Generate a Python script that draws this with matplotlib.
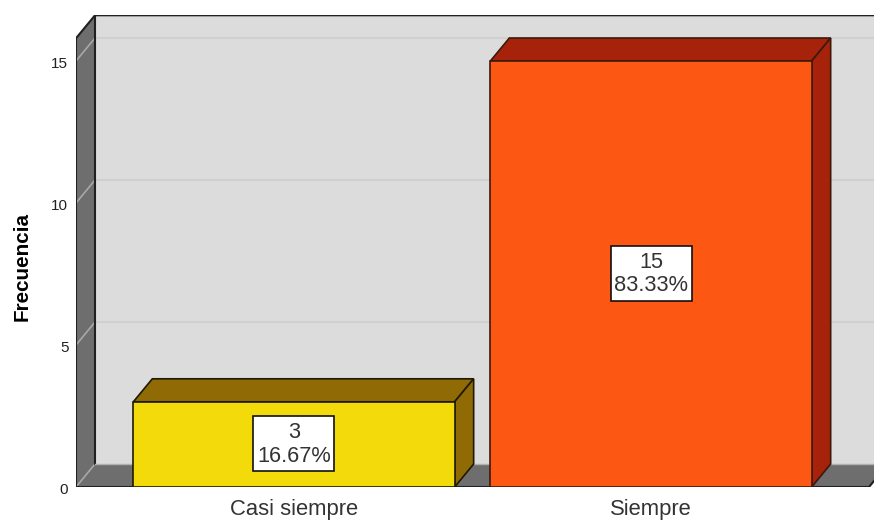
import matplotlib
matplotlib.use("Agg")
import matplotlib.pyplot as plt
from matplotlib.patches import Polygon, Rectangle
from matplotlib.transforms import ScaledTranslation

plt.rcParams["font.family"] = ["Liberation Sans", "DejaVu Sans"]

# Datos
categorias = ["Casi siempre", "Siempre"]
frecuencias = [3, 15]
porcentajes = [16.67, 83.33]
yticks = [0, 5, 10, 15]

color_frente = ["#F2DA0B", "#FC5713"]
color_lado = ["#906A05", "#A7220A"]
borde_barra = ["#1E1A00", "#3A1A0C"]

fig = plt.figure(figsize=(8.74, 5.2), dpi=100, facecolor="white")
# el plano frontal del cubo: x de 76 a 874 px, y de 487 a 15 px
ax = fig.add_axes([76 / 874, (520 - 487) / 520, 798 / 874, 472 / 520])

x0, x1 = -0.6106, 1.6246
y0, y1 = 0, 16.62
ax.set_xlim(x0, x1)
ax.set_ylim(y0, y1)

# profundidad del efecto 3D en unidades de datos
dx = 19 / 357
dy = 23 / 28.4
ytop = 15.8       # altura frontal de la pared
xfloor = 1.6106   # fin frontal del suelo
ancho = 0.9
caja_w = 81 / 357  # caja de la etiqueta
caja_h = 55 / 28.4


def poly(pts, fc, ec="none", lw=1.0, z=1):
    ax.add_patch(Polygon(pts, closed=True, facecolor=fc, edgecolor=ec, linewidth=lw, zorder=z))


# Pared del fondo, pared izquierda y suelo
poly([(x0 + dx, dy), (x1 + dx, dy), (x1 + dx, ytop + dy), (x0 + dx, ytop + dy)], "#DCDCDC", z=1)
poly([(x0, 0), (x0 + dx, dy), (x0 + dx, ytop + dy), (x0, ytop)], "#6E6E6E", z=2)
poly([(x0, 0), (xfloor, 0), (xfloor + dx, dy), (x0 + dx, dy)], "#6E6E6E", z=2)

# Lineas de rejilla
for t in yticks[1:]:
    ax.plot([x0 + dx, x1], [t + dy, t + dy], color="#D0D0D0", lw=1.5, zorder=2.5)
for t in yticks:
    ax.plot([x0, x0 + dx], [t, t + dy], color="#A8A8A8", lw=1.2, zorder=2.5)

# Bordes de las paredes
ax.plot([x0, x0, x0 + dx, x1], [0, ytop, ytop + dy, ytop + dy], color="#202020", lw=1.5, zorder=3)
ax.plot([x0 + dx, x0 + dx], [dy, ytop + dy], color="#202020", lw=1.5, zorder=3)
ax.plot([x0 + dx, x1], [dy, dy], color="#B0B0B0", lw=1.0, zorder=3)
ax.plot([x0, xfloor, xfloor + dx], [0, 0, dy], color="#202020", lw=1.5, zorder=3)

# Barras en 3D
for i, v in enumerate(frecuencias):
    l = i - ancho / 2
    r = i + ancho / 2
    z = 4 + i
    poly([(l, v), (r, v), (r + dx, v + dy), (l + dx, v + dy)], color_lado[i], borde_barra[i], 1.2, z)
    poly([(r, 0), (r + dx, dy), (r + dx, v + dy), (r, v)], color_lado[i], borde_barra[i], 1.2, z)
    poly([(l, 0), (r, 0), (r, v), (l, v)], color_frente[i], borde_barra[i], 1.2, z)
    ax.add_patch(
        Rectangle(
            (i - caja_w / 2, v / 2 - caja_h / 2 + 0.03),
            caja_w,
            caja_h,
            facecolor="white",
            edgecolor="#111111",
            linewidth=1.2,
            zorder=8,
        )
    )
    ax.text(
        i,
        v / 2,
        f"{v}\n{porcentajes[i]:.2f}%",
        ha="center",
        va="center",
        fontsize=15.7,
        color="#333333",
        linespacing=1.15,
        zorder=9,
    )

ax.set_xticks(range(len(categorias)))
ax.set_xticklabels(categorias, fontsize=15.8, color="#333333")
ax.set_yticks(yticks)
ax.set_yticklabels([str(t) for t in yticks], fontsize=11, color="#222222")
ax.tick_params(axis="x", length=0, pad=8.5)
ax.tick_params(axis="y", length=0, pad=5.5)
# etiquetas del eje y un pixel mas abajo
bajar = ScaledTranslation(0, -1.2 / 72, fig.dpi_scale_trans)
for lab in ax.get_yticklabels():
    lab.set_transform(lab.get_transform() + bajar)
for s in ax.spines.values():
    s.set_visible(False)

ax.set_ylabel("Frecuencia", fontsize=14.9, fontweight="bold", color="black")
ax.yaxis.set_label_coords(-0.055, 0.468)

fig.savefig("out.png", dpi=100, facecolor="white")
